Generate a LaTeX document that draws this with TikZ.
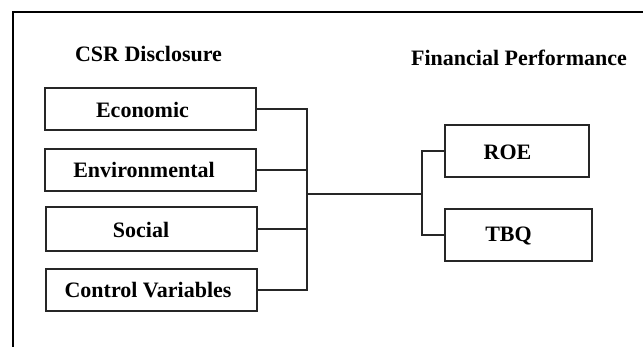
\documentclass[tikz,border=0pt]{standalone}
\usepackage{fontspec}
\setmainfont{Liberation Serif}
\begin{document}
\begin{tikzpicture}[x=1pt,y=-1pt,
  boxnode/.style={draw=black!85,line width=1.3pt,rectangle,inner sep=0pt},
  lbl/.style={font=\fontsize{22}{26}\selectfont\bfseries,inner sep=0pt},
  conn/.style={draw=black!85,line width=1.2pt}]
\useasboundingbox (0,0) rectangle (643,346);
\fill[white] (0,0) rectangle (643,346);
\draw[line width=2pt] (13,350) -- (13,12) -- (650,12);
% titles
\node[lbl] (t1) at (148.5,54) {CSR Disclosure};
\node[lbl] (t2) at (519,58) {Financial Performance};
% left boxes
\node[boxnode,minimum width=211pt,minimum height=42pt] (econ) at (150.5,109) {};
\node[boxnode,minimum width=211pt,minimum height=42pt] (env) at (150.5,170) {};
\node[boxnode,minimum width=211pt,minimum height=44pt] (soc) at (151.5,229) {};
\node[boxnode,minimum width=211pt,minimum height=42pt] (ctrl) at (151.5,290) {};
\node[lbl] (econt) at (142.5,109.5) {Economic};
\node[lbl] (envt) at (144,169.5) {Environmental};
\node[lbl] (soct) at (141,229.5) {Social};
\node[lbl] (ctrlt) at (148,290.5) {Control Variables};
% right boxes
\node[boxnode,minimum width=144pt,minimum height=52pt] (roe) at (517,151) {};
\node[boxnode,minimum width=147pt,minimum height=52pt] (tbq) at (518.5,235) {};
\node[lbl] (roet) at (507.5,152) {ROE};
\node[lbl] (tbqt) at (508.5,236) {TBQ};
% connectors
\coordinate (busL) at (307,194);
\coordinate (busR) at (422,194);
\draw[conn] (econ.east) -| (busL);
\draw[conn] (env.east) -| (busL);
\draw[conn] (soc.east) -| (busL);
\draw[conn] (ctrl.east) -| (busL);
\draw[conn] (busL) -- (busR);
\draw[conn] (busR) |- (roe.west);
\draw[conn] (busR) |- (tbq.west);
\end{tikzpicture}
\end{document}
